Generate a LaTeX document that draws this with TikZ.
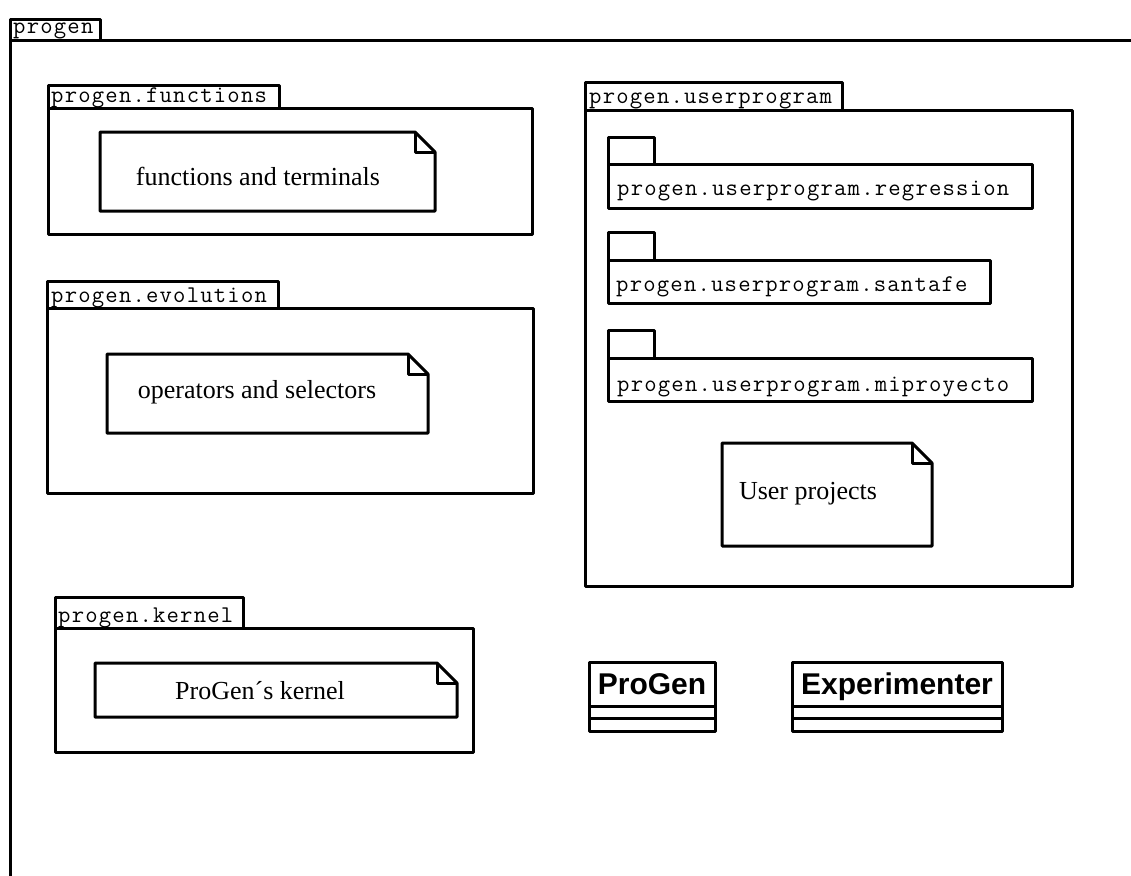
\documentclass[tikz,border=0pt]{standalone}
\usepackage{fontspec}
\setmainfont{Liberation Serif}
\setsansfont{Liberation Sans}
\setmonofont{Latin Modern Mono}[LetterSpace=5]
\usetikzlibrary{positioning}

\tikzset{
  uml/.style={line width=3pt, line join=round},
  pkgname/.style={font=\fontsize{24}{26}\selectfont\ttfamily, inner sep=0pt, anchor=base west},
  notetext/.style={font=\fontsize{26}{28}\selectfont, inner sep=0pt},
  classname/.style={font=\fontsize{30}{32}\selectfont\sffamily\bfseries, inner sep=0pt, anchor=base},
}

\begin{document}
\begin{tikzpicture}[x=1pt,y=-1pt]
\useasboundingbox (0,0) rectangle (1131,875);
\clip (0,0) rectangle (1131,875);

% outer package
\draw[uml] (10,41) rectangle (1160,900);
\draw[uml] (10,41) -- (10,20) -- (100,20) -- (100,41);
\node[pkgname] (progen) at (13,34) {progen};

% progen.functions
\draw[uml] (48,108) rectangle (532,234);
\draw[uml] (48,108) -- (48,85) -- (279,85) -- (279,108);
\node[pkgname] (functions) at (51,102) {progen.functions};
\draw[uml] (100,132) -- (415,132) -- (435,152) -- (435,211) -- (100,211) -- cycle;
\draw[uml] (415,132) -- (415,152) -- (435,152);
\node[notetext] (fnote) at (258,176) {functions and terminals};

% progen.evolution
\draw[uml] (47,308) rectangle (533,493);
\draw[uml] (47,308) -- (47,281) -- (278,281) -- (278,308);
\node[pkgname] (evolution) at (51,302) {progen.evolution};
\draw[uml] (107,354) -- (408,354) -- (428,374) -- (428,433) -- (107,433) -- cycle;
\draw[uml] (408,354) -- (408,374) -- (428,374);
\node[notetext] (enote) at (257,392) {operators and selectors};

% progen.userprogram
\draw[uml] (585,110) rectangle (1072,586);
\draw[uml] (585,110) -- (585,82) -- (842,82) -- (842,110);
\node[pkgname] (userprogram) at (589,103) {progen.userprogram};

\draw[uml] (608,164) rectangle (1032,208);
\draw[uml] (608,164) -- (608,137) -- (654,137) -- (654,164);
\node[pkgname] (regression) at (617,195) {progen.userprogram.regression};

\draw[uml] (608,260) rectangle (990,303);
\draw[uml] (608,260) -- (608,232) -- (654,232) -- (654,260);
\node[pkgname] (santafe) at (616,291) {progen.userprogram.santafe};

\draw[uml] (608,358) rectangle (1032,401);
\draw[uml] (608,358) -- (608,330) -- (654,330) -- (654,358);
\node[pkgname] (miproyecto) at (617,391) {progen.userprogram.miproyecto};

\draw[uml] (722,443) -- (912,443) -- (932,463) -- (932,546) -- (722,546) -- cycle;
\draw[uml] (912,443) -- (912,463) -- (932,463);
\node[notetext] (unote) at (808,494) {User projects};

% progen.kernel
\draw[uml] (55,628) rectangle (473,752);
\draw[uml] (55,628) -- (55,597) -- (243,597) -- (243,628);
\node[pkgname] (kernel) at (58,622) {progen.kernel};
\draw[uml] (95,663) -- (437,663) -- (457,683) -- (457,717) -- (95,717) -- cycle;
\draw[uml] (437,663) -- (437,683) -- (457,683);
\node[notetext] (knote) at (260,691) {ProGen´s kernel};

% classes
\draw[uml] (589,662) rectangle (715,731);
\draw[uml] (589,706) -- (715,706) (589,718) -- (715,718);
\node[classname] (progenclass) at (652,694) {ProGen};

\draw[uml] (792,662) rectangle (1002,731);
\draw[uml] (792,706) -- (1002,706) (792,718) -- (1002,718);
\node[classname] (experimenter) at (897,694) {Experimenter};
\end{tikzpicture}
\end{document}
